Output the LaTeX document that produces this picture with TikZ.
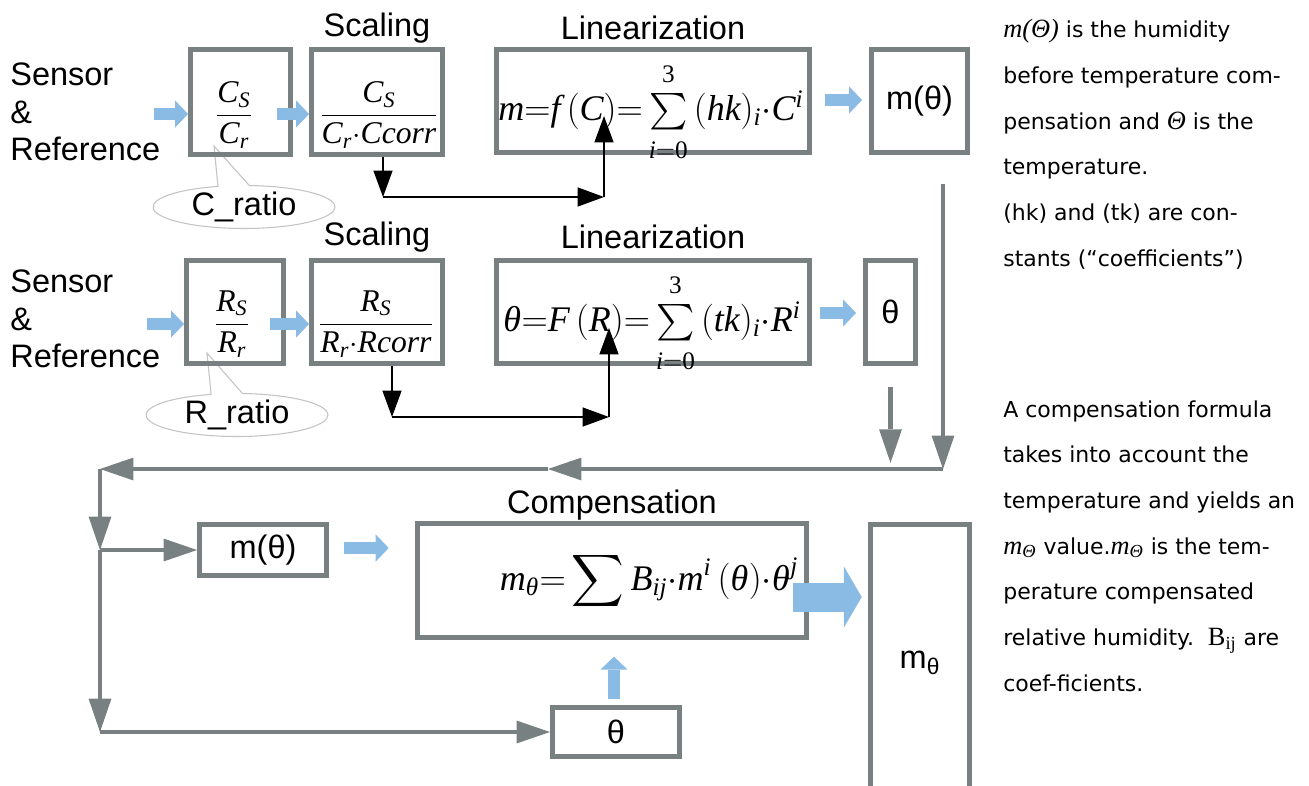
\documentclass[tikz,border=0pt]{standalone}
\usepackage{amsmath}
\usepackage{mathspec}
\setmainfont{Liberation Sans}
\setmathsfont(Digits,Latin,Greek){Liberation Serif}
\setmathrm{Liberation Serif}
\newfontfamily\notefont{DejaVu Sans}
\newfontfamily\timesfont{Liberation Serif}
\usepackage{tikz}
\usetikzlibrary{arrows.meta}
\usetikzlibrary{shapes,shapes.callouts,calc}
\definecolor{boxgray}{RGB}{121,128,130}
\definecolor{flowblue}{RGB}{137,187,228}
\definecolor{bubblegray}{RGB}{195,195,195}

\begin{document}
\begin{tikzpicture}[x=0.02cm,y=-0.02cm]
    \newcommand{\notemath}[1]{{\timesfont\fontsize{15}{26}\selectfont #1}}
    \newcommand{\sumto}{\sum\limits_{\rule{0pt}{13pt}i=0}^{3\rule[-4pt]{0pt}{4pt}}}
    \tikzset{boxsize/.style 2 args={minimum width=#1*0.02cm, minimum height=#2*0.02cm}}
    
    \tikzstyle{block}=[draw=boxgray, line width=2.8pt, inner sep=0pt, font=\fontsize{18.5}{21}\selectfont]
    \tikzstyle{lbl}=[inner sep=0pt, font=\fontsize{18.5}{21}\selectfont]
    \tikzstyle{source}=[lbl, align=left, anchor=west, font=\fontsize{18.5}{21.3}\selectfont]
    \tikzstyle{frm}=[inner sep=0pt, font=\fontsize{18}{21}\selectfont]
    \tikzstyle{bigfrm}=[inner sep=0pt, font=\fontsize{20.5}{23}\selectfont]
    \tikzstyle{note}=[inner sep=0pt, align=left, anchor=north west, font=\notefont\fontsize{12.5}{26}\selectfont]
    \tikzstyle{bubble}=[
      ellipse callout,
      draw=bubblegray,
      fill=white,
      line width=0.6pt,
      inner sep=0pt,
      minimum width=3.64cm,
      minimum height=0.86cm,
      callout pointer arc=20,
      font=\fontsize{18.5}{21}\selectfont,
    ]
    \tikzstyle{flow}=[line width=7pt, draw=flowblue, -{Triangle[length=7.4pt,width=15.5pt,line width=0pt]}]
    \tikzstyle{bigflow}=[line width=16.5pt, draw=flowblue, -{Triangle[length=10.2pt,width=35pt,line width=0pt]}]
    \tikzstyle{dedge}=[line width=1.4pt, draw=black, -{Triangle[length=15pt,width=11pt,line width=0pt]}]
    \tikzstyle{gedge}=[line width=2.8pt, draw=boxgray, -{Triangle[length=19pt,width=13pt,line width=0pt]}]
    
    \useasboundingbox (0,0) rectangle (1309,785);
    
    {
      \node[bubble, callout absolute pointer={(214,146)}] (cratio) at (244,207) {C\_ratio};
      \node[bubble, callout absolute pointer={(207,353)}] (rratio) at (237,415) {R\_ratio};
    }
    
    {
      \node[source] (csource) at (10,112) {Sensor\\\&\\Reference};
      \node[source] (rsource) at (10,319) {Sensor\\\&\\Reference};
      
      \node[lbl] (cscaletitle) at (377,28) {Scaling};
      \node[lbl] (clintitle) at (653,28) {Linearization};
      \node[lbl] (rscaletitle) at (377,237) {Scaling};
      \node[lbl] (rlintitle) at (653,237) {Linearization};
      \node[lbl] (comptitle) at (612,505) {Compensation};
    }
    
    {
      \node[block, boxsize={100}{105}] (cbox) at (240.5,102) {};
      \node[block, boxsize={131}{105}] (cscale) at (377,102) {};
      \node[block, boxsize={313}{103}] (clin) at (653,101) {};
      \node[block, boxsize={96}{103}] (mbox) at (919.5,101) {m(θ)};
      
      \node[block, boxsize={97}{103}] (rbox) at (235,312) {};
      \node[block, boxsize={131}{103}] (rscale) at (377,312) {};
      \node[block, boxsize={313}{103}] (rlin) at (653,312) {};
      \node[block, boxsize={50}{103}] (tbox) at (890.5,312) {θ};
      
      \node[block, boxsize={127}{51}] (mlow) at (263,550) {m(θ)};
      \node[block, boxsize={389}{114}] (comp) at (612,580.5) {};
      \node[block, boxsize={99}{270}, text depth=0pt] (mtheta) at (920,659.5) {m\textsubscript{θ}};
      \node[block, boxsize={127}{49}] (tlow) at (616,732) {θ};
    }
    
    {
      \node[frm] (cfrac) at (234,115) {$\dfrac{C_S}{C_r}$};
      \node[frm] (cscalefrac) at (379,115) {$\dfrac{C_S}{C_r{\cdot}Ccorr}$};
      \node[bigfrm] (clinfrm) at (651,112) {$m{=}f\,(C){=}\sumto\,(hk)_i{\cdot}C^i$};
      
      \node[frm] (rfrac) at (232,324) {$\dfrac{R_S}{R_r}$};
      \node[frm] (rscalefrac) at (376,324) {$\dfrac{R_S}{R_r{\cdot}Rcorr}$};
      \node[bigfrm] (rlinfrm) at (652,323) {$\theta{=}F\,(R){=}\sumto\,(tk)_i{\cdot}R^i$};
      
      \node[bigfrm] (compfrm) at (649,581) {$m_\theta{=}\displaystyle\sum B_{ij}{\cdot}m^i\,(\theta){\cdot}\theta^j$};
    }
    
    {
      \node[note] (humnote) at (1003,19) {\notemath{\itshape m(Θ)} is the humidity\\
        before temperature com-\\
        pensation and \notemath{\itshape Θ} is the\\
        temperature.\\
        (hk) and (tk) are con-\\
        stants (“coefficients”)};
      \node[note] (compnote) at (1003,400) {A compensation formula\\
        takes into account the\\
        temperature and yields an\\
        \notemath{\itshape m\textsubscript{Θ}} value.\notemath{\itshape m\textsubscript{Θ}} is the tem-\\
        perature compensated\\
        relative humidity.\ \ \notemath{B\textsubscript{ij}} are\\
        coef-ficients.};
    }
    
    % blue flow arrows
    {
      \coordinate (cin1) at (154,114);
      \coordinate (cin2) at (277,114);
      \coordinate (cout) at (825,100);
      \coordinate (rin1) at (147,324);
      \coordinate (rin2) at (270,324);
      \coordinate (rout) at (820,313);
      \coordinate (min) at (344,548);
      \coordinate (cmpout) at (793,597);
      
      \draw[flow] (cin1) -- (cin1 -| cbox.west);
      \draw[flow] (cin2) -- (cin2 -| cscale.west);
      \draw[flow, shorten >=4pt] (cout) -- (cout -| mbox.west);
      \draw[flow] (rin1) -- (rin1 -| rbox.west);
      \draw[flow] (rin2) -- (rin2 -| rscale.west);
      \draw[flow, shorten >=4pt] (rout) -- (rout -| tbox.west);
      \draw[flow, shorten >=15pt] (min) -- (min -| comp.west);
      \draw[bigflow, shorten >=3.6pt] (cmpout) -- (cmpout -| mtheta.west);
      \draw[flow, shorten <=3.4pt, shorten >=9.5pt] (tlow.north -| 614,0) -- (comp.south -| 614,0);
    }
    
    % black correction arrows
    {
      \coordinate (cturn) at (383,197);
      \coordinate (cup) at (604,197);
      \coordinate (carg) at (604,116);
      \coordinate (rturn) at (392,417);
      \coordinate (rup) at (609,417);
      \coordinate (rarg) at (609,328);
      
      \draw[dedge] (cturn |- cscale.south) -- (cturn);
      \draw[dedge] (cturn) -- (cup);
      \draw[dedge] (cup) -- (carg);
      \draw[dedge] (rturn |- rscale.south) -- (rturn);
      \draw[dedge] (rturn) -- (rup);
      \draw[dedge] (rup) -- (rarg);
    }
    
    % gray feedback lines
    {
      \coordinate (rcorner) at (943,469);
      \coordinate (mid) at (548,469);
      \coordinate (lcorner) at (100,469);
      \coordinate (lsplit) at (100,550);
      \coordinate (lbottom) at (100,732);
      
      \draw[gedge, shorten <=16.7pt] (mbox.south -| rcorner) -- (rcorner);
      \draw[gedge, shorten <=12pt, shorten >=3.5pt] (tbox.south) -- (tbox.south |- rcorner);
      \draw[gedge] (rcorner) -- (mid);
      \draw[gedge] (mid) -- (lcorner);
      \draw[gedge] (lcorner) -- (lsplit);
      \draw[gedge] (lsplit) -- (mlow.west);
      \draw[gedge] (lsplit) -- (lbottom);
      \draw[gedge] (lbottom) -- (tlow.west);
    }
\end{tikzpicture}
\end{document}
